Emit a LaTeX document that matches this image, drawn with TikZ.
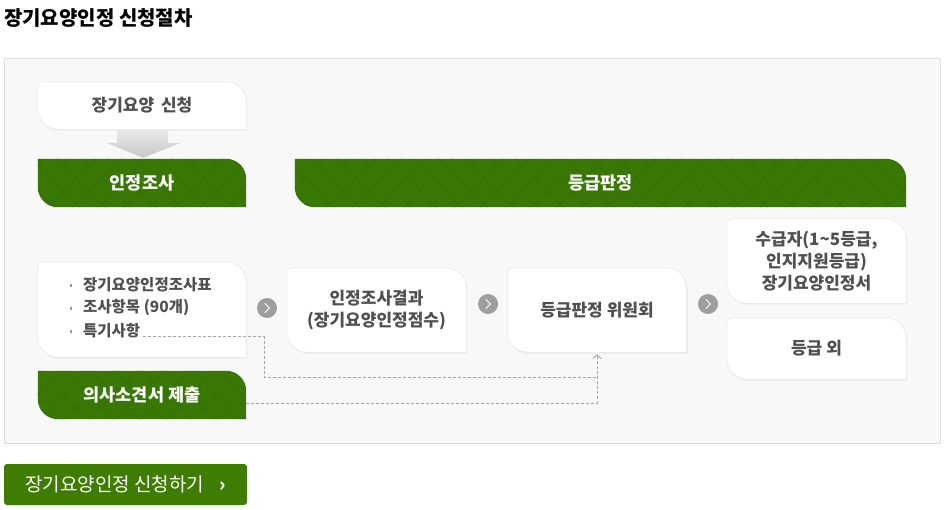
\documentclass[tikz,border=0pt]{standalone}
\usepackage{fontspec}
\setmainfont{Noto Sans CJK KR}
\usetikzlibrary{calc,backgrounds,arrows.meta,patterns.meta}
\definecolor{grn}{RGB}{58,120,6}
\definecolor{grnd}{RGB}{52,112,5}
\definecolor{btncol}{RGB}{62,124,2}
\definecolor{txt}{RGB}{80,80,80}
\definecolor{panelfill}{RGB}{248,248,248}
\definecolor{panelline}{RGB}{222,222,222}
\definecolor{boxline}{RGB}{226,226,226}
\definecolor{dashc}{RGB}{165,165,165}
\definecolor{circc}{RGB}{158,158,158}

\newcommand\wshape[1]{%
 \fill[black!7] let \p1=(#1.north west), \p2=(#1.south east) in
  ({\x1+1pt},{\y1-6.5pt}) arc[start angle=180,end angle=90,radius=5pt]
  -- ({\x2-19pt},{\y1-1.5pt}) arc[start angle=90,end angle=0,radius=20pt]
  -- ({\x2+1pt},{\y2-1.5pt}) -- ({\x1+21pt},{\y2-1.5pt})
  arc[start angle=270,end angle=180,radius=20pt] -- cycle;
 \filldraw[fill=white,draw=boxline] let \p1=(#1.north west), \p2=(#1.south east) in
  ({\x1},{\y1-5pt}) arc[start angle=180,end angle=90,radius=5pt]
  -- ({\x2-20pt},{\y1}) arc[start angle=90,end angle=0,radius=20pt]
  -- ({\x2},{\y2}) -- ({\x1+20pt},{\y2})
  arc[start angle=270,end angle=180,radius=20pt] -- cycle;
}
\newcommand\gshape[1]{%
 \path[fill=grn,
   postaction={pattern={Lines[angle=45,distance=18pt,line width=0.8pt]},pattern color=grnd},
   postaction={pattern={Lines[angle=-45,distance=18pt,line width=0.8pt]},pattern color=grnd}]
  let \p1=(#1.north west), \p2=(#1.south east) in
  ({\x1},{\y1}) -- ({\x2-20pt},{\y1}) arc[start angle=90,end angle=0,radius=20pt]
  -- ({\x2},{\y2}) -- ({\x1+20pt},{\y2})
  arc[start angle=270,end angle=180,radius=20pt] -- cycle;
}

\begin{document}
\begin{tikzpicture}[x=1pt,y=-1pt,
  boxtext/.style={inner sep=0pt,align=center,text=txt,
    font=\bfseries\fontsize{17}{22}\selectfont},
  wbox/.style={boxtext,minimum width=179pt,minimum height=84pt},
  gbar/.style={inner sep=0pt,text=white,minimum height=48pt,
    font=\bfseries\fontsize{17.5}{20}\selectfont},
  item/.style={inner sep=0pt,anchor=west,text=txt,
    font=\bfseries\fontsize{15.5}{20}\selectfont},
  bul/.style={fill=black!40,inner sep=0pt,minimum size=2.6pt},
  circ/.style={circle,fill=circc,minimum size=20pt,inner sep=0pt,
    path picture={\draw[white,line width=0.9pt,line cap=round,line join=round]
      ([shift={(-2pt,4.5pt)}]path picture bounding box.center) --
      ([shift={(2.5pt,0pt)}]path picture bounding box.center) --
      ([shift={(-2pt,-4.5pt)}]path picture bounding box.center);}},
  dsh/.style={draw=dashc,line width=0.8pt,dash pattern=on 3pt off 2pt},
]
\useasboundingbox (0,0) rectangle (944,509);

% title
\node[anchor=west,inner sep=0pt,font=\bfseries\fontsize{20}{22}\selectfont] (title) at (4,18) {장기요양인정 신청절차};

% nodes
\node[boxtext,minimum width=208pt,minimum height=47pt] (apply) at (142,105.5) {장기요양\hspace{3pt} 신청};
\node[gbar,minimum width=208pt] (g1) at (142,183) {인정조사};
\node[gbar,minimum width=611pt] (g2) at (600.5,183) {등급판정};

\node[boxtext,minimum width=208pt,minimum height=95pt] (list) at (142,309.5) {};
\node[item] (it1) at (83,285) {장기요양인정조사표};
\node[item] (it2) at (83,308) {조사항목 (90개)};
\node[item] (it3) at (83,331) {특기사항};
\node[bul] at (71,285.5) {};
\node[bul] at (71,308.5) {};
\node[bul] at (71,331.5) {};

\node[circ] (c1) at (267,308) {};
\node[wbox] (result) at (376.5,310) {인정조사결과\\(장기요양인정점수)};
\node[circ] (c2) at (488,304) {};
\node[wbox] (committee) at (597,310) {등급판정 위원회};
\node[circ] (c3) at (708,304) {};
\node[wbox] (grade) at (816.5,261) {수급자(1\textasciitilde5등급,\\인지지원등급)\\장기요양인정서};
\node[wbox,minimum height=61pt] (outside) at (816.5,348.5) {등급 외};

\node[gbar,minimum width=208pt] (g3) at (142,395) {의사소견서 제출};

% button
\node[fill=btncol,rounded corners=3pt,minimum width=243pt,minimum height=41pt,
  inner sep=0pt,text=white,font=\fontsize{19}{22}\selectfont] (btn) at (125.5,484.5)
  {장기요양인정 신청하기\hspace{15pt}\textbf{›}};

% dashed connectors
\coordinate (jn) at (597,377);
\draw[dsh] ([xshift=3pt]it3.base east) -| (264,377) -- (jn);
\draw[dsh,-{Straight Barb[length=4pt,width=8pt]}] ([yshift=-8pt]g3.east) -| ([yshift=-2pt]committee.south);

% background shapes
\begin{scope}[on background layer]
  \filldraw[fill=panelfill,draw=panelline,line width=1pt] (4,58) rectangle (940,443);
  \wshape{apply}
  \wshape{list}
  \wshape{result}
  \wshape{committee}
  \wshape{grade}
  \wshape{outside}
  \gshape{g1}
  \gshape{g2}
  \gshape{g3}
  \shade[top color=black!8,bottom color=black!22]
    ([xshift=-25pt]apply.south) -- ++(51,0) -- ++(0,14) -- ++(12,0)
    -- ([xshift=1pt,yshift=1pt]g1.north) -- ++(-37,-15) -- ++(11,0) -- cycle;
\end{scope}
\end{tikzpicture}
\end{document}
